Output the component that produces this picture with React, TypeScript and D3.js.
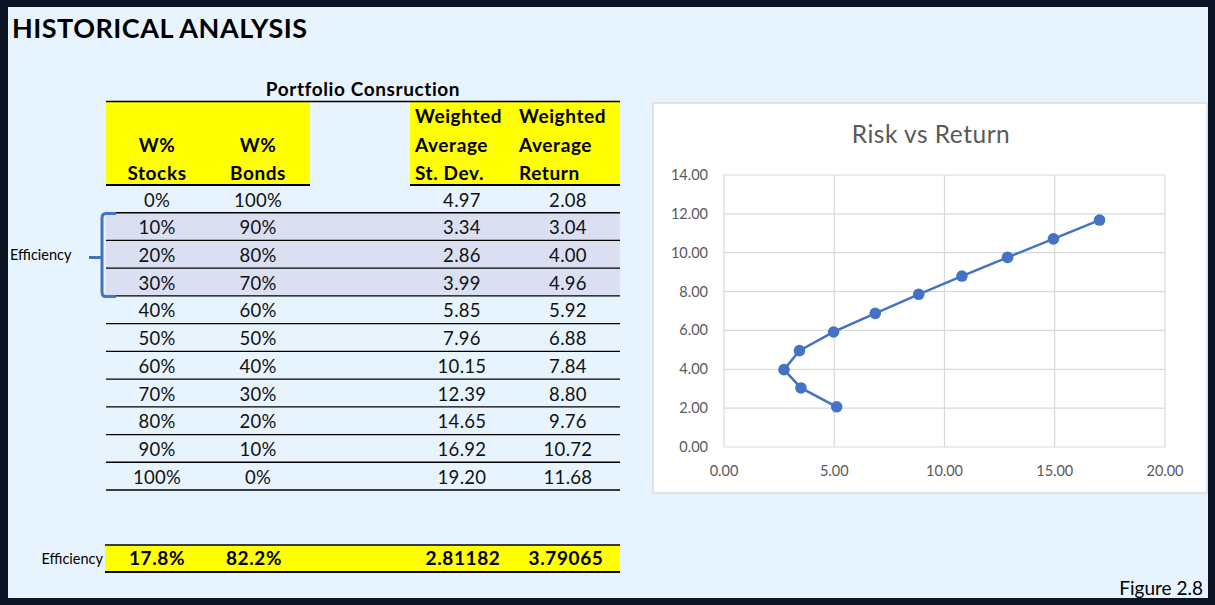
import React, { useEffect, useRef } from 'react'
import * as d3 from 'd3'

// table data
const stocksW = ['0%', '10%', '20%', '30%', '40%', '50%', '60%', '70%', '80%', '90%', '100%']
const bondsW = ['100%', '90%', '80%', '70%', '60%', '50%', '40%', '30%', '20%', '10%', '0%']
const avgStDev = [4.97, 3.34, 2.86, 3.99, 5.85, 7.96, 10.15, 12.39, 14.65, 16.92, 19.2]
const avgReturn = [2.08, 3.04, 4.0, 4.96, 5.92, 6.88, 7.84, 8.8, 9.76, 10.72, 11.68]
const efficientRows = [1, 2, 3]
const efficiencyRow = ['17.8%', '82.2%', '2.81182', '3.79065']

// chart data
const chartRisk = [5.11, 3.49, 2.72, 3.42, 4.97, 6.86, 8.83, 10.79, 12.86, 14.94, 17.03]
const chartReturn = [2.07, 3.04, 3.98, 4.96, 5.92, 6.88, 7.86, 8.8, 9.76, 10.71, 11.68]
const xTicks = [0, 5, 10, 15, 20]
const yTicks = [0, 2, 4, 6, 8, 10, 12, 14]

const FONT = "Lato, 'Open Sans', sans-serif"

export default function App() {
  const ref = useRef<SVGSVGElement>(null)

  useEffect(() => {
    drawChart()
  }, [])

  function drawChart() {
    const svg = d3.select(ref.current)
    svg.selectAll('*').remove()

    // frame + panel
    svg.append('rect').attr('width', 1215).attr('height', 605).attr('fill', '#0b1525')
    svg.append('rect').attr('x', 8).attr('y', 7).attr('width', 1200).attr('height', 591).attr('fill', '#e8f4fd')

    svg.append('text')
      .attr('x', 12).attr('y', 38)
      .attr('font-family', FONT).attr('font-weight', 'bold').attr('font-size', 27)
      .attr('letter-spacing', 0.5)
      .text('HISTORICAL ANALYSIS')

    // ---------- table ----------
    const left = 106, right = 620
    const cols = [157, 258, 462, 568]
    const row = d3.scaleLinear().domain([0, 11]).range([185, 490])
    const rowH = row(1) - row(0)

    svg.append('text')
      .attr('x', 363).attr('y', 96)
      .attr('text-anchor', 'middle')
      .attr('font-family', FONT).attr('font-weight', 'bold').attr('font-size', 19)
      .attr('letter-spacing', 0.6)
      .text('Portfolio Consruction')

    // yellow header cells
    svg.append('rect').attr('x', left).attr('y', 102).attr('width', 310 - left).attr('height', 83).attr('fill', '#ffff00')
    svg.append('rect').attr('x', 410).attr('y', 102).attr('width', right - 410).attr('height', 83).attr('fill', '#ffff00')
    svg.append('line').attr('x1', left).attr('x2', right).attr('y1', 101.5).attr('y2', 101.5).attr('stroke', '#000').attr('stroke-width', 1.3)
    svg.append('line').attr('x1', left).attr('x2', 310).attr('y1', 185).attr('y2', 185).attr('stroke', '#000').attr('stroke-width', 2)
    svg.append('line').attr('x1', 410).attr('x2', right).attr('y1', 185).attr('y2', 185).attr('stroke', '#000').attr('stroke-width', 2)

    const header = svg.append('g')
      .attr('font-family', FONT).attr('font-weight', 'bold').attr('font-size', 19)
      .attr('letter-spacing', 0.6)
    const headLines = [
      { x: cols[0], a: 'middle', lines: [['W%', 152], ['Stocks', 180]] },
      { x: cols[1], a: 'middle', lines: [['W%', 152], ['Bonds', 180]] },
      { x: 415, a: 'start', lines: [['Weighted', 123], ['Average', 152], ['St. Dev.', 180]] },
      { x: 519, a: 'start', lines: [['Weighted', 123], ['Average', 152], ['Return', 180]] },
    ]
    headLines.forEach(h => {
      h.lines.forEach(l => {
        header.append('text').attr('x', h.x).attr('y', l[1]).attr('text-anchor', h.a).text(l[0])
      })
    })

    // shaded "efficiency" rows
    svg.selectAll('.shade')
      .data(efficientRows)
      .enter()
      .append('rect')
      .attr('x', left).attr('width', right - left)
      .attr('y', d => row(d)).attr('height', rowH)
      .attr('fill', '#dadff1')

    // row lines
    svg.selectAll('.rowline')
      .data(d3.range(1, 12))
      .enter()
      .append('line')
      .attr('x1', left).attr('x2', right)
      .attr('y1', d => row(d)).attr('y2', d => row(d))
      .attr('stroke', '#000').attr('stroke-width', 1.3)

    const body = svg.append('g')
      .attr('font-family', FONT).attr('font-size', 18.5).attr('letter-spacing', 0.3)
      .attr('text-anchor', 'middle').attr('fill', '#111')
    stocksW.forEach((s, i) => {
      const y = row(i) + 21.5
      body.append('text').attr('x', cols[0]).attr('y', y).text(s)
      body.append('text').attr('x', cols[1]).attr('y', y).text(bondsW[i])
      body.append('text').attr('x', cols[2]).attr('y', y).text(avgStDev[i].toFixed(2))
      body.append('text').attr('x', cols[3]).attr('y', y).text(avgReturn[i].toFixed(2))
    })

    // efficiency bracket
    svg.append('path')
      .attr('d', 'M116,213.5 L106,213.5 Q102,213.5 102,218 L102,292 Q102,296.5 106,296.5 L116,296.5 M89,257.5 L102,257.5')
      .attr('fill', 'none').attr('stroke', '#4472c4').attr('stroke-width', 3)
    svg.append('text')
      .attr('x', 10).attr('y', 260)
      .attr('font-family', FONT).attr('font-size', 14.5)
      .text('Efficiency')

    // efficiency result row
    svg.append('rect').attr('x', 105).attr('y', 545).attr('width', right - 105).attr('height', 27).attr('fill', '#ffff00')
    svg.append('line').attr('x1', 105).attr('x2', right).attr('y1', 545).attr('y2', 545).attr('stroke', '#000').attr('stroke-width', 1.3)
    svg.append('line').attr('x1', 105).attr('x2', right).attr('y1', 572).attr('y2', 572).attr('stroke', '#000').attr('stroke-width', 2)
    svg.append('text')
      .attr('x', 103).attr('y', 564).attr('text-anchor', 'end')
      .attr('font-family', FONT).attr('font-size', 14.5)
      .text('Efficiency')
    const effX = [157, 254, 463, 566]
    svg.append('g')
      .attr('font-family', FONT).attr('font-weight', 'bold').attr('font-size', 19)
      .attr('letter-spacing', 0.6).attr('text-anchor', 'middle')
      .selectAll('text')
      .data(efficiencyRow)
      .enter()
      .append('text')
      .attr('x', (d, i) => effX[i]).attr('y', 565)
      .text(d => d)

    // ---------- chart ----------
    svg.append('rect')
      .attr('x', 653).attr('y', 103).attr('width', 554).attr('height', 390)
      .attr('fill', '#fff').attr('stroke', '#d9d9d9').attr('stroke-width', 1.3)

    svg.append('text')
      .attr('x', 931).attr('y', 143).attr('text-anchor', 'middle')
      .attr('font-family', FONT).attr('font-size', 24.5).attr('letter-spacing', 0.5).attr('fill', '#595959')
      .text('Risk vs Return')

    const x = d3.scaleLinear().domain([0, 20]).range([724, 1165])
    const y = d3.scaleLinear().domain([0, 14]).range([447, 175])

    // gridlines
    svg.append('g')
      .selectAll('line')
      .data(yTicks)
      .enter()
      .append('line')
      .attr('x1', x(0)).attr('x2', x(20))
      .attr('y1', d => y(d)).attr('y2', d => y(d))
      .attr('stroke', '#d9d9d9').attr('stroke-width', 1.2)
    svg.append('g')
      .selectAll('line')
      .data(xTicks)
      .enter()
      .append('line')
      .attr('y1', y(0)).attr('y2', y(14))
      .attr('x1', d => x(d)).attr('x2', d => x(d))
      .attr('stroke', '#d9d9d9').attr('stroke-width', 1.2)

    // tick labels
    svg.append('g')
      .attr('font-family', FONT).attr('font-size', 14.5).attr('fill', '#595959').attr('text-anchor', 'end')
      .selectAll('text')
      .data(yTicks)
      .enter()
      .append('text')
      .attr('x', 708).attr('y', d => y(d) + 5)
      .text(d => d.toFixed(2))
    svg.append('g')
      .attr('font-family', FONT).attr('font-size', 14.5).attr('fill', '#595959').attr('text-anchor', 'middle')
      .selectAll('text')
      .data(xTicks)
      .enter()
      .append('text')
      .attr('x', d => x(d)).attr('y', 476)
      .text(d => d.toFixed(2))

    // line + markers
    const pts = chartRisk.map((r, i) => [r, chartReturn[i]])
    svg.append('path')
      .datum(pts)
      .attr('d', d3.line().x(d => x(d[0])).y(d => y(d[1])))
      .attr('fill', 'none').attr('stroke', '#4472c4').attr('stroke-width', 2.5)
    svg.append('g')
      .selectAll('circle')
      .data(pts)
      .enter()
      .append('circle')
      .attr('cx', d => x(d[0])).attr('cy', d => y(d[1])).attr('r', 5.8)
      .attr('fill', '#4472c4')

    svg.append('text')
      .attr('x', 1203).attr('y', 595).attr('text-anchor', 'end')
      .attr('font-family', FONT).attr('font-size', 19)
      .text('Figure 2.8')
  }

  return (
    <svg ref={ref} width={1215} height={605} style={{ position: 'absolute', left: 0, top: 0 }} />
  )
}
